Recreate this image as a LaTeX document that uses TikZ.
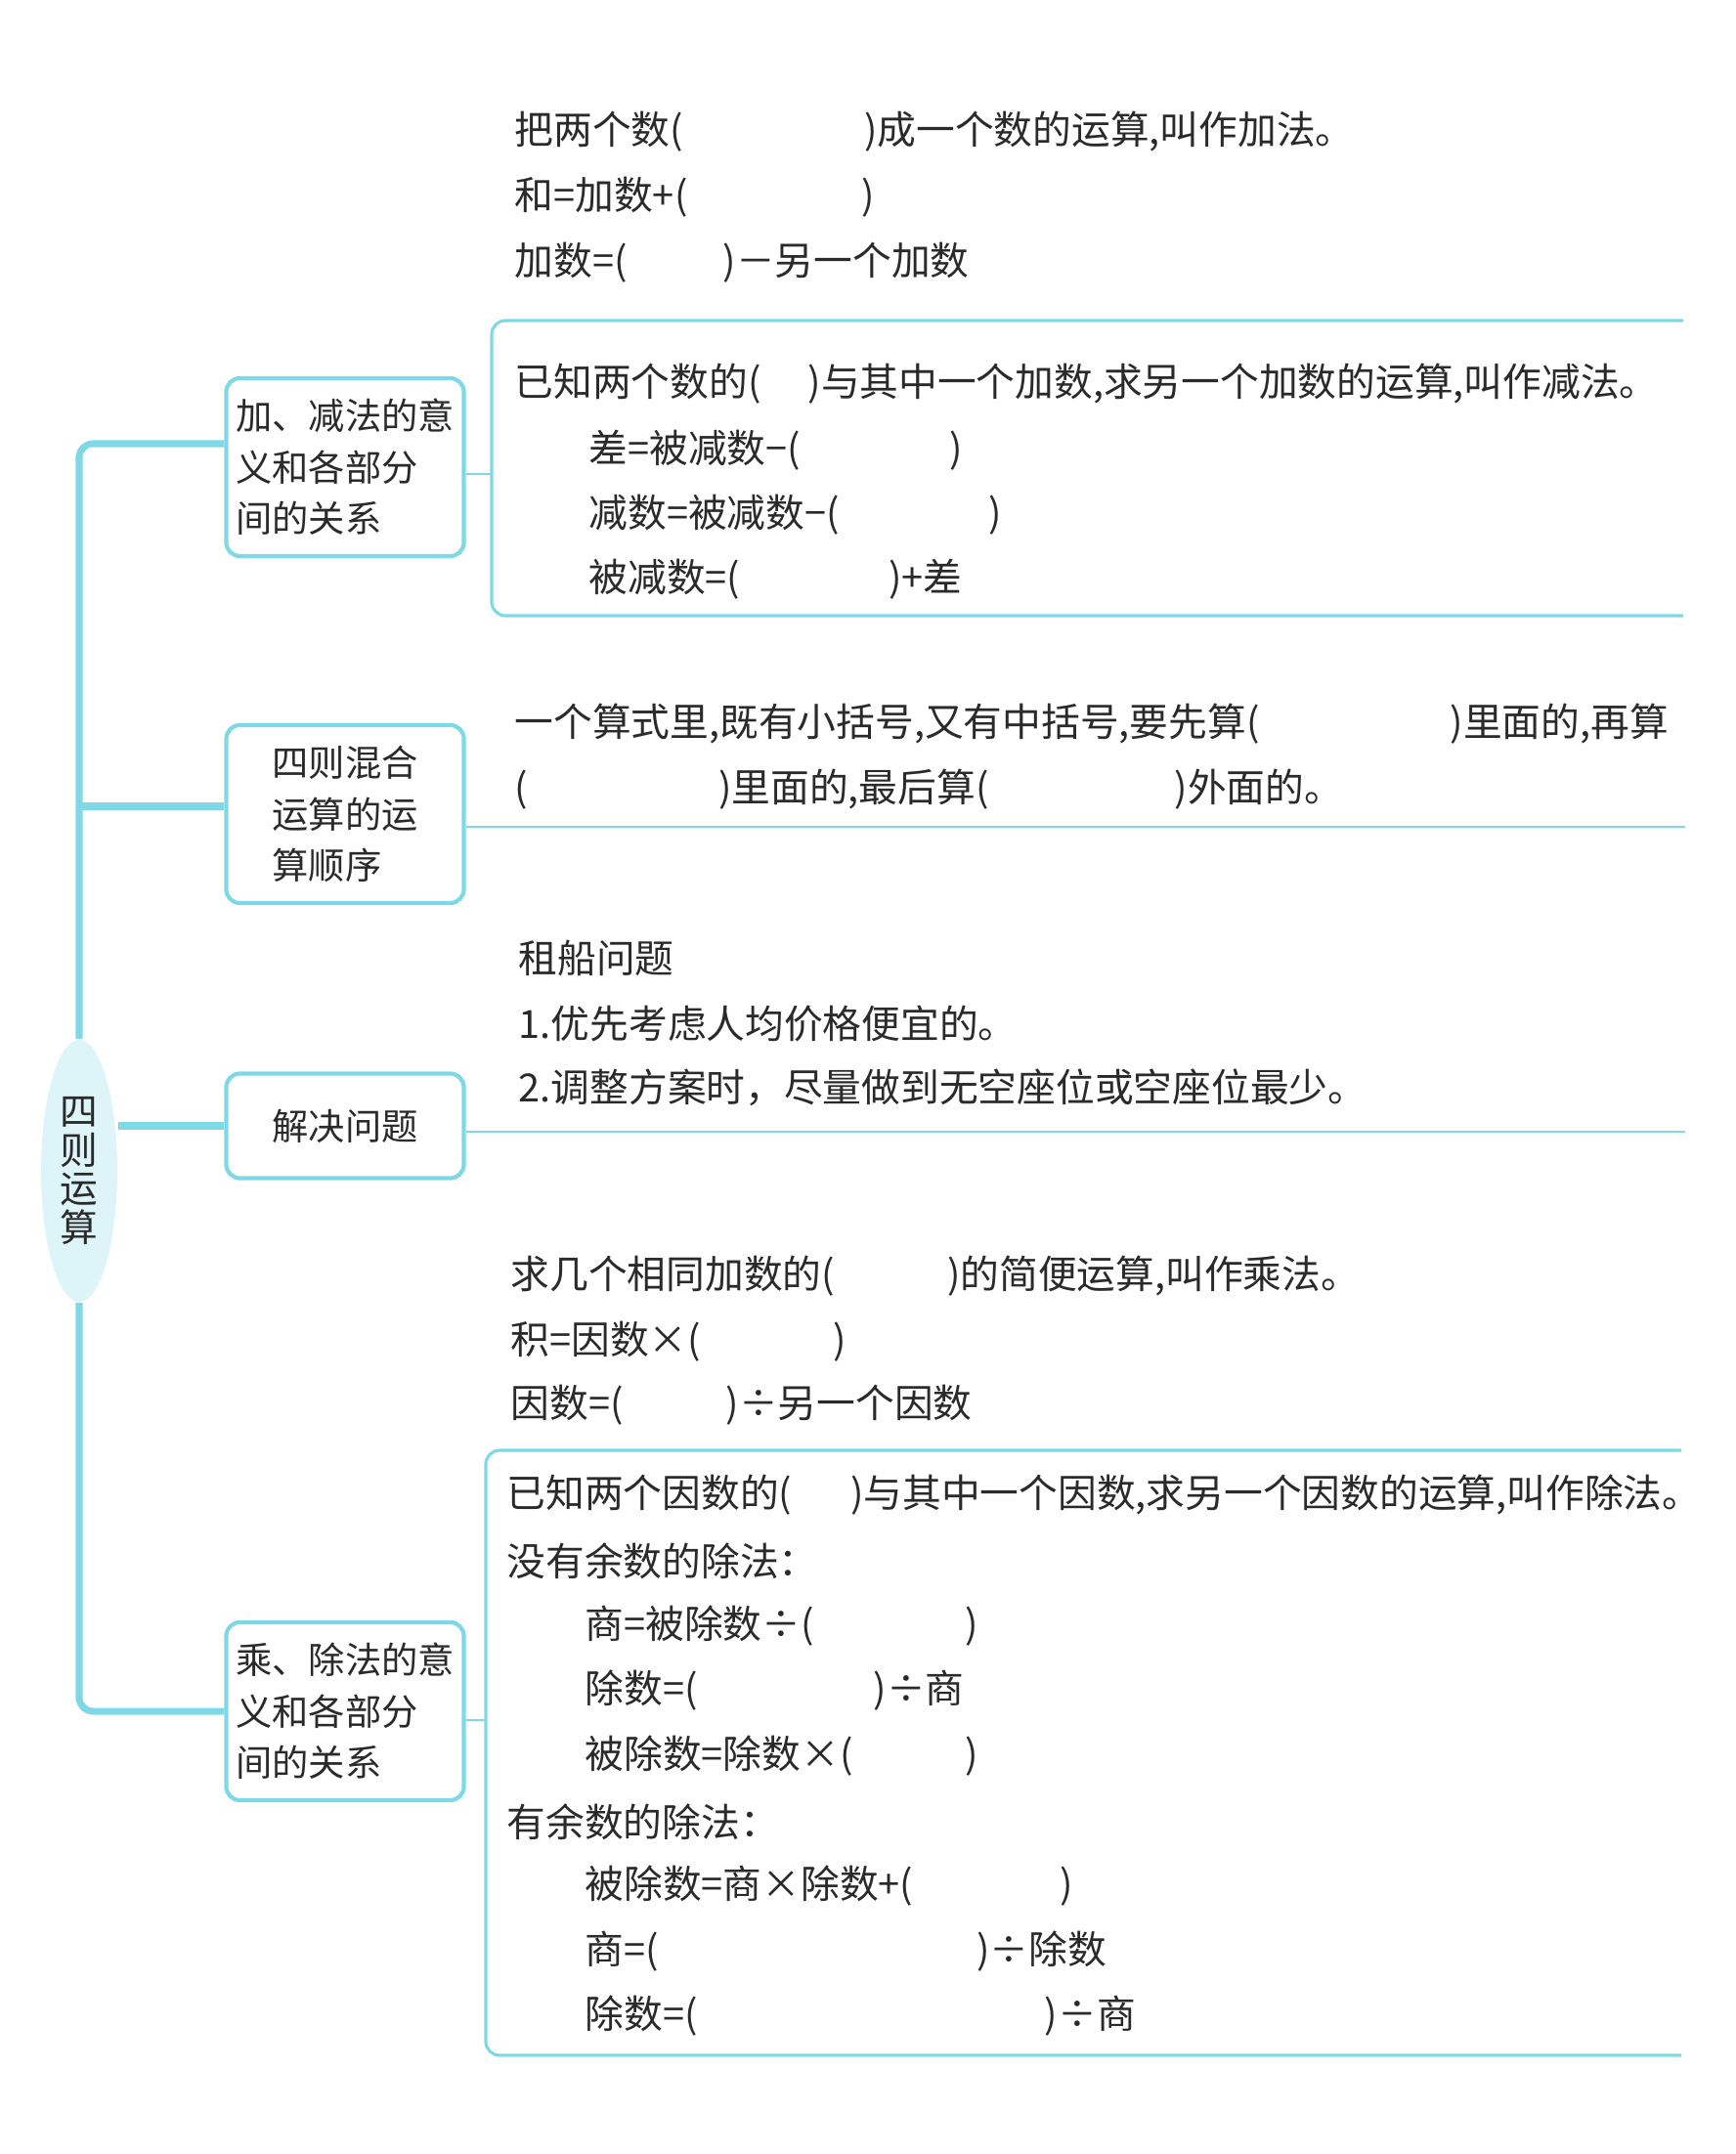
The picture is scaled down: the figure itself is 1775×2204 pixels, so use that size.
\documentclass[tikz,border=0pt]{standalone}
\usepackage{fontspec}
\setmainfont{Noto Sans CJK SC}
\usepackage{xcolor}
\usetikzlibrary{shapes.geometric}
\definecolor{ink}{HTML}{2A2A2A}
\definecolor{sky}{HTML}{7FD8E6}
\definecolor{softsky}{HTML}{DDF4F8}
\newcommand\fillin[1]{(\hspace{#1cm})}

\begin{document}
\begin{tikzpicture}[
  x=0.01cm,y=-0.01cm,
  every node/.style={text=ink},
  root/.style={ellipse,fill=softsky,minimum width=0.78cm,minimum height=2.68cm,inner sep=0pt,align=center,font=\fontsize{11}{11.2}\selectfont},
  topic/.style={rectangle,rounded corners=4pt,draw=sky,line width=1.2pt,minimum width=2.43cm,minimum height=1.82cm,inner sep=1pt,align=left,font=\fontsize{10.6}{14.9}\selectfont},
  txt/.style={anchor=west,inner sep=0pt,font=\fontsize{11.3}{13}\selectfont},
  trunk/.style={draw=sky,line width=2pt,rounded corners=4pt},
  link/.style={draw=sky,line width=0.8pt},
  bracket/.style={draw=sky,line width=0.9pt,rounded corners=4pt}
]
\useasboundingbox (0,0) rectangle (1775,2204);

\node[root] (root) at (81,1198) {四\\则\\运\\算};

\node[topic] (box1) at (353,478) {加、减法的意\\义和各部分\\间的关系};
\node[topic] (box2) at (353,833) {四则混合\\运算的运\\算顺序};
\node[topic,minimum height=1.07cm] (box3) at (353,1152) {解决问题};
\node[topic] (box4) at (353,1751) {乘、除法的意\\义和各部分\\间的关系};

\coordinate (j1) at (81,454);
\coordinate (j2) at (81,825);
\draw[trunk] (box1.west |- j1) -- (j1) -- (root.north);
\draw[trunk] (box2.west |- j2) -- (j2);
\draw[trunk] (box3.west) -- (box3.west -| root.east);
\draw[trunk] (box4.west) -| (root.south);

\coordinate (br1) at (503,485);
\coordinate (end2) at (1724,846);
\coordinate (end3) at (1724,1158);
\coordinate (br2) at (497,1760);
\foreach \b/\e in {box1/br1,box2/end2,box3/end3,box4/br2}
  \draw[link] (\b.east |- \e) -- (\e);

\draw[bracket] (1722,328) -| (503,630) -- (1722,630);
\draw[bracket] (1720,1484) -| (497,2103) -- (1720,2103);

\node[txt] (a1) at (526,135) {把两个数\fillin{1.85}成一个数的运算,叫作加法。};
\node[txt] (a2) at (526,202) {和=加数+\fillin{1.78}};
\node[txt] (a3) at (526,269) {加数=\fillin{0.98}－另一个加数};

\node[txt] (s1) at (526,393) {已知两个数的\fillin{0.48}与其中一个加数,求另一个加数的运算,叫作减法。};
\node[txt] (s2) at (602,461) {差=被减数−\fillin{1.52}};
\node[txt] (s3) at (602,527) {减数=被减数−\fillin{1.52}};
\node[txt] (s4) at (602,593) {被减数=\fillin{1.52}+差};

\node[txt] (o1) at (526,741) {一个算式里,既有小括号,又有中括号,要先算\fillin{1.95}里面的,再算};
\node[txt] (o2) at (526,808) {\fillin{1.95}里面的,最后算\fillin{1.9}外面的。};

\node[txt] (p1) at (530,980) {租船问题};
\node[txt] (p2) at (530,1047) {1.优先考虑人均价格便宜的。};
\node[txt] (p3) at (530,1113) {2.调整方案时，尽量做到无空座位或空座位最少。};

\node[txt] (m1) at (522,1306) {求几个相同加数的\fillin{1.15}的简便运算,叫作乘法。};
\node[txt] (m2) at (522,1373) {积=因数×\fillin{1.35}};
\node[txt] (m3) at (522,1438) {因数=\fillin{1.05}÷另一个因数};

\node[txt] (d1) at (518,1530) {已知两个因数的\fillin{0.6}与其中一个因数,求另一个因数的运算,叫作除法。};
\node[txt] (d2) at (518,1597) {没有余数的除法：};
\node[txt] (d3) at (598,1664) {商=被除数÷\fillin{1.55}};
\node[txt] (d4) at (598,1730) {除数=\fillin{1.8}÷商};
\node[txt] (d5) at (598,1797) {被除数=除数×\fillin{1.15}};
\node[txt] (d6) at (518,1864) {有余数的除法：};
\node[txt] (d7) at (598,1930) {被除数=商×除数+\fillin{1.5}};
\node[txt] (d8) at (598,1997) {商=\fillin{3.25}÷除数};
\node[txt] (d9) at (598,2063) {除数=\fillin{3.55}÷商};
\end{tikzpicture}
\end{document}
